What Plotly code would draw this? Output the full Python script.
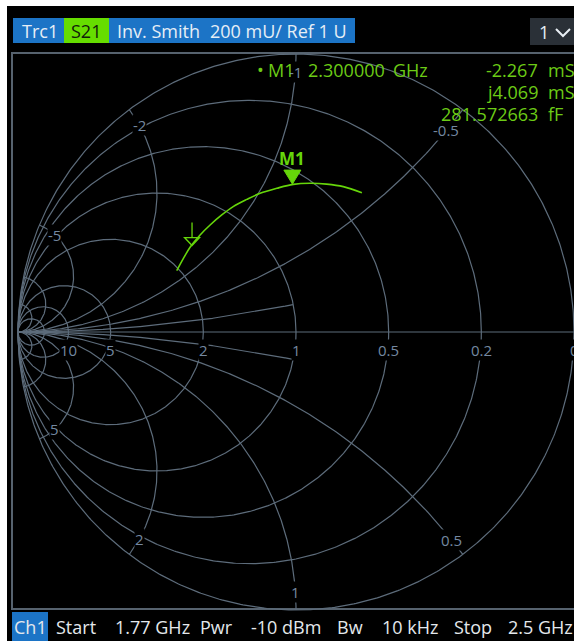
import numpy as np
import plotly.graph_objects as go

# ---------------- data ----------------
# S21 trace, plotted in the reflection plane (real / imaginary part)
s21_re = [-0.429, -0.405, -0.381, -0.345, -0.309, -0.267, -0.226, -0.177,
          -0.129, -0.069, -0.010, 0.050, 0.110, 0.170, 0.237]
s21_im = [0.221, 0.265, 0.305, 0.349, 0.385, 0.421, 0.451, 0.477,
          0.499, 0.517, 0.531, 0.535, 0.532, 0.523, 0.501]
m1_re, m1_im = -0.013, 0.532          # marker M1 (2.3 GHz)
ref_re, ref_im = -0.374, 0.311        # trace reference symbol

conductance_values = [0.2, 0.5, 1, 2, 5, 10, 20]
conductance_tick_values = [0, 0.2, 0.5, 1, 2, 5, 10]
conductance_tick_labels = ["0", "0.2", "0.5", "1", "2", "5", "10"]
susceptance_values = [0.5, 1, 2, 5, 10, 20]          # full arcs
susceptance_short_values = [0.2]                      # arcs drawn inside g >= 1 only
susceptance_tick_values = [-5, -2, -1, -0.5, 0.5, 1, 2, 5]
susceptance_tick_labels = ["-5", "-2", "-1", "-0.5", "0.5", "1", "2", "5"]

header_texts = ["Trc1", "S21", "Inv. Smith", "200 mU/ Ref 1 U"]
channel_menu = "1"
footer_texts = ["Ch1", "Start", "1.77 GHz", "Pwr", "-10 dBm", "Bw", "10 kHz", "Stop", "2.5 GHz"]
readout_head = ["\u2022", "M1", "2.300000", "GHz"]
readout_values = ["-2.267", "j4.069", "281.572663"]
readout_units = ["mS", "mS", "fF"]
marker_name = "M1"

# ---------------- geometry / style ----------------
CX, CY, R = 296.0, 332.0, 278.0   # chart centre and radius (window px)
FW, FH = 574, 641                 # figure size

def gx(X): return (X - CX) / R
def gy(Y): return (CY - Y) / R
def px(X): return X / FW
def py(Y): return 1 - Y / FH

GRID = "#5d6c7b"
LABEL = "#7488a0"
GREEN = "#66d60a"
TXT_GREEN = "#6ccb16"
BLUE = "#1c74c6"
FONT = "Open Sans"

fig = go.Figure()

# ---- Smith (admittance) grid ----
gxs, gys = [], []
th = np.linspace(0, 2 * np.pi, 721)
for g in [0] + conductance_values:
    c, r = -g / (1 + g), 1 / (1 + g)
    gxs += list(c + r * np.cos(th)) + [None]
    gys += list(r * np.sin(th)) + [None]
gxs += [-1, 1, None]
gys += [0, 0, None]

def b_arc(bb, n=300):
    cxx, cyy, rr = -1.0, -1.0 / bb, 1 / abs(bb)
    ex = -(bb ** 2 - 1) / (bb ** 2 + 1)
    ey = -2 * bb / (bb ** 2 + 1)
    t0 = np.arctan2(0 - cyy, -1 - cxx)
    t1 = np.arctan2(ey - cyy, ex - cxx)
    d = (t1 - t0 + np.pi) % (2 * np.pi) - np.pi
    t = t0 + d * np.linspace(0, 1, n)
    return cxx + rr * np.cos(t), cyy + rr * np.sin(t)

for b in susceptance_values:
    for s in (-1, 1):
        ax_, ay_ = b_arc(s * b)
        gxs += list(ax_) + [None]
        gys += list(ay_) + [None]
for b in susceptance_short_values:
    for s in (-1, 1):
        ax_, ay_ = b_arc(s * b, 1500)
        gam = ax_ + 1j * ay_
        with np.errstate(all="ignore"):
            yadm = (1 - gam) / (1 + gam)
        keep = np.nan_to_num(yadm.real, nan=1e9, posinf=1e9) >= 1.0
        gxs += list(ax_[keep]) + [None]
        gys += list(ay_[keep]) + [None]

fig.add_trace(go.Scatter(x=gxs, y=gys, mode="lines",
                         line=dict(color=GRID, width=1.2),
                         hoverinfo="skip", showlegend=False))

# ---- trace ----
fig.add_trace(go.Scatter(x=s21_re, y=s21_im, mode="lines",
                         line=dict(color=GREEN, width=1.6, shape="spline"),
                         hoverinfo="skip", showlegend=False))

annotations = []
shapes = []

# conductance labels on the real axis
for gv, lab in zip(conductance_tick_values, conductance_tick_labels):
    xr_ = (1 - gv) / (1 + gv)
    annotations.append(dict(x=xr_, y=0, xref="x", yref="y", text=lab, showarrow=False,
                            yshift=-18, font=dict(family=FONT, size=15, color=LABEL),
                            bgcolor="black", borderpad=0))
# susceptance labels near the rim
for bv, lab in zip(susceptance_tick_values, susceptance_tick_labels):
    ax_, ay_ = b_arc(bv, 2000)
    rad = np.hypot(ax_, ay_)
    lim = 0.905 if lab == "-0.5" else 0.935
    k = len(rad) - 1
    while k > 0 and rad[k] > lim:
        k -= 1
    annotations.append(dict(x=ax_[k], y=ay_[k], xref="x", yref="y", text=lab, showarrow=False,
                            font=dict(family=FONT, size=15, color=LABEL),
                            bgcolor="black", borderpad=0))

# ---- marker M1 ----
tw, th_ = 8.5 / R, 14 / R
shapes.append(dict(type="path", xref="x", yref="y",
                   path=f"M {m1_re} {m1_im} L {m1_re - tw} {m1_im + th_} L {m1_re + tw} {m1_im + th_} Z",
                   fillcolor=GREEN, line=dict(color=GREEN, width=1)))
annotations.append(dict(x=m1_re, y=m1_im + 26 / R, xref="x", yref="y", text=f"<b>{marker_name}</b>",
                        showarrow=False, font=dict(family=FONT, size=17, color=GREEN)))
# reference symbol (open triangle with stem)
rw, rh, rs = 7.5 / R, 8 / R, 15 / R
shapes.append(dict(type="path", xref="x", yref="y",
                   path=f"M {ref_re} {ref_im} L {ref_re - rw} {ref_im + rh} L {ref_re + rw} {ref_im + rh} Z",
                   line=dict(color=GREEN, width=1.3)))
shapes.append(dict(type="line", xref="x", yref="y", x0=ref_re, x1=ref_re,
                   y0=ref_im + rh, y1=ref_im + rh + rs, line=dict(color=GREEN, width=1.3)))

# ---- white page border (top / left) ----
shapes.append(dict(type="rect", xref="paper", yref="paper", x0=0, x1=1, y0=py(6), y1=1,
                   fillcolor="white", line=dict(width=0), layer="below"))
shapes.append(dict(type="rect", xref="paper", yref="paper", x0=0, x1=px(7), y0=0, y1=1,
                   fillcolor="white", line=dict(width=0), layer="below"))

# ---- frame ----
shapes.append(dict(type="rect", xref="paper", yref="paper", x0=px(12), x1=px(640), y0=py(609), y1=py(53),
                   line=dict(color="#56626e", width=2), fillcolor="rgba(0,0,0,0)", layer="below"))

# ---- header ----
shapes.append(dict(type="rect", xref="paper", yref="paper", x0=px(13), x1=px(355), y0=py(43), y1=py(18),
                   fillcolor=BLUE, line=dict(width=0), layer="below"))
shapes.append(dict(type="rect", xref="paper", yref="paper", x0=px(64), x1=px(109), y0=py(43), y1=py(18),
                   fillcolor="#66dd00", line=dict(width=0), layer="below"))
shapes.append(dict(type="rect", xref="paper", yref="paper", x0=px(530), x1=px(640), y0=py(45), y1=py(18),
                   fillcolor="#2a3037", line=dict(width=0), layer="below"))
shapes.append(dict(type="path", xref="paper", yref="paper",
                   path=f"M {px(556)} {py(29)} L {px(563)} {py(36)} L {px(570)} {py(29)}",
                   line=dict(color="#e8eef4", width=2)))
hdr_x = [20, 69, 115, 208]
hdr_col = ["#e6eef6", "#10200a", "#e6eef6", "#e6eef6"]
for t, X, c in zip(header_texts, hdr_x, hdr_col):
    annotations.append(dict(x=px(X), y=py(31), xref="paper", yref="paper", text=t, showarrow=False,
                            xanchor="left", yanchor="middle", font=dict(family=FONT, size=18, color=c)))
annotations.append(dict(x=px(537), y=py(32), xref="paper", yref="paper", text=channel_menu, showarrow=False,
                        xanchor="left", yanchor="middle", font=dict(family=FONT, size=18, color="#e6eef6")))

# ---- footer ----
shapes.append(dict(type="rect", xref="paper", yref="paper", x0=px(12), x1=px(48), y0=0, y1=py(612),
                   fillcolor=BLUE, line=dict(width=0), layer="below"))
ftr_x = [12, 54, 113, 198, 249, 335, 380, 452, 506]
for t, X in zip(footer_texts, ftr_x):
    annotations.append(dict(x=px(X), y=py(627), xref="paper", yref="paper", text=t, showarrow=False,
                            xanchor="left", yanchor="middle", font=dict(family=FONT, size=18, color="#e4e8ec")))

# ---- marker readout ----
head_x = [255, 266, 306, 391]
for t, X in zip(readout_head, head_x):
    annotations.append(dict(x=px(X), y=py(70), xref="paper", yref="paper", text=t, showarrow=False,
                            xanchor="left", yanchor="middle", font=dict(family=FONT, size=18, color=TXT_GREEN)))
for t, u, Y in zip(readout_values, readout_units, [70, 92, 114]):
    annotations.append(dict(x=px(540), y=py(Y), xref="paper", yref="paper", text=t, showarrow=False,
                            xanchor="right", yanchor="middle", font=dict(family=FONT, size=18, color=TXT_GREEN)))
    annotations.append(dict(x=px(546), y=py(Y), xref="paper", yref="paper", text=u, showarrow=False,
                            xanchor="left", yanchor="middle", font=dict(family=FONT, size=18, color=TXT_GREEN)))

fig.update_layout(
    width=FW, height=FH, autosize=False,
    margin=dict(l=0, r=0, t=0, b=0),
    paper_bgcolor="black", plot_bgcolor="black",
    xaxis=dict(range=[gx(0), gx(FW)], visible=False, fixedrange=True),
    yaxis=dict(range=[gy(FH), gy(0)], visible=False, fixedrange=True),
    shapes=shapes, annotations=annotations, showlegend=False,
)

fig.write_html(
    "out.html",
    config={"displayModeBar": False},
    post_script="document.documentElement.style.overflow='hidden';"
                "document.body.style.overflow='hidden';document.body.style.margin='0';",
)
